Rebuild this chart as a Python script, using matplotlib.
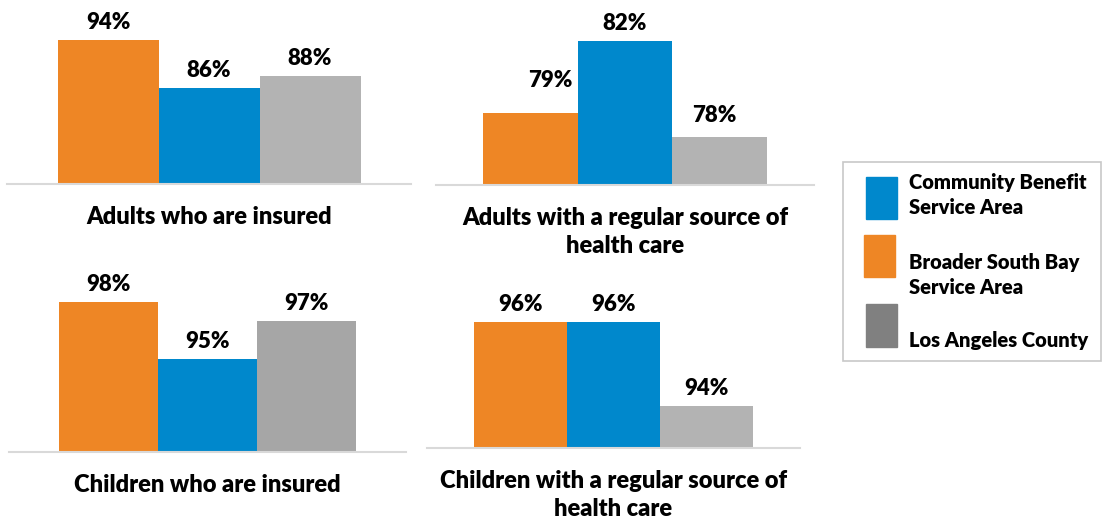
import matplotlib.pyplot as plt
from matplotlib.patches import Rectangle

plt.rcParams['font.family'] = ['Lato', 'DejaVu Sans']

categories = [
    'Adults who are insured',
    'Adults with a regular source of\nhealth care',
    'Children who are insured',
    'Children with a regular source of\nhealth care',
]
broader_south_bay = [94, 79, 98, 96]
community_benefit = [86, 82, 95, 96]
la_county = [88, 78, 97, 94]

ORANGE = '#EE8625'
BLUE = '#0088CC'
GRAY = ['#B3B3B3', '#B3B3B3', '#A6A6A6', '#B3B3B3']
LEGEND_GRAY = '#808080'
WEIGHT = 'heavy'

W, H = 1104, 520
fig = plt.figure(figsize=(W / 100, H / 100), dpi=100)


def px_axes(left, top, right, bottom):
    """Add axes given a box in pixels measured from the top-left corner."""
    return fig.add_axes([left / W, 1 - bottom / H, (right - left) / W, (bottom - top) / H])


# pixel boxes and value ranges of the four small panels
boxes = [(7, 4, 411, 184), (436, 5, 814, 185), (9, 265, 406, 452), (427, 280, 800, 448)]
ylims = [(70, 100), (76, 83.5), (90, 100), (93, 97)]
# a few value labels sit off their default spot (panel, bar) -> (dx, dy) in points
label_nudge = {(1, 0): (14, 11), (1, 2): (-4, 3)}

for i, cat in enumerate(categories):
    ax = px_axes(*boxes[i])
    vals = [broader_south_bay[i], community_benefit[i], la_county[i]]
    cols = [ORANGE, BLUE, GRAY[i]]
    bars = ax.bar([-1, 0, 1], vals, width=1.0, color=cols)
    for j, (b, v) in enumerate(zip(bars, vals)):
        dx, dy = label_nudge.get((i, j), (0, 0))
        ax.annotate(f'{v}%', (b.get_x() + b.get_width() / 2, v),
                    xytext=(dx, 5 + dy), textcoords='offset points',
                    ha='center', va='bottom', fontsize=16, fontweight=WEIGHT)
    ax.set_xlim(-2, 2)
    ax.set_ylim(*ylims[i])
    ax.set_xticks([0])
    ax.set_xticklabels([cat], fontsize=17, fontweight=WEIGHT, linespacing=1.3)
    ax.tick_params(axis='x', length=0, pad=16)
    ax.set_yticks([])
    for s in ['top', 'left', 'right']:
        ax.spines[s].set_visible(False)
    ax.spines['bottom'].set_color('#D9D9D9')
    ax.spines['bottom'].set_linewidth(1.5)

# legend drawn in a pixel-coordinate overlay
lg = fig.add_axes([0, 0, 1, 1])
lg.set_xlim(0, W)
lg.set_ylim(H, 0)
lg.axis('off')
lg.add_patch(Rectangle((843, 162), 258, 199, fill=False, edgecolor='#C8C8C8', lw=1.2))
lg.add_patch(Rectangle((866, 177), 31, 42, color=BLUE))
lg.add_patch(Rectangle((864, 235), 31, 42, color=ORANGE))
lg.add_patch(Rectangle((866, 304), 31, 43, color=LEGEND_GRAY))
legend_text = [
    ('Community Benefit\nService Area', 195),
    ('Broader South Bay\nService Area', 275),
    ('Los Angeles County', 340),
]
for txt, y in legend_text:
    lg.text(909, y, txt, ha='left', va='center', fontsize=14.5, fontweight=WEIGHT,
            linespacing=1.35)

fig.savefig('out.png', dpi=100, facecolor='white')
